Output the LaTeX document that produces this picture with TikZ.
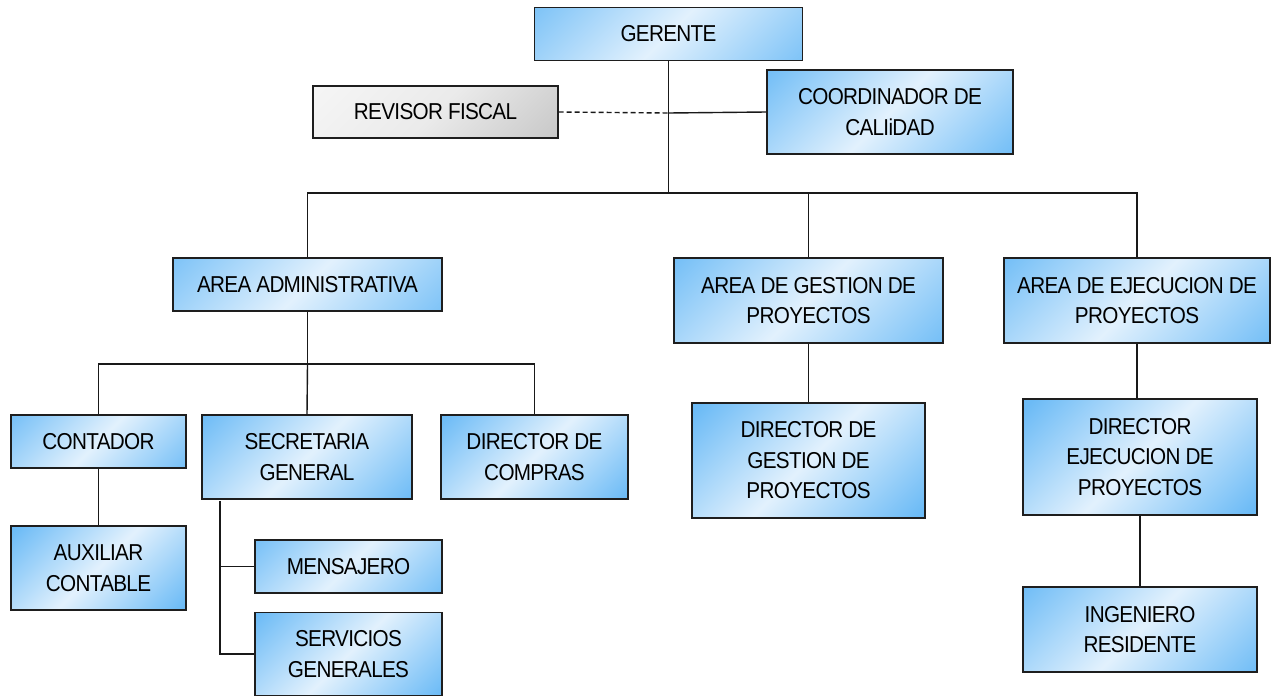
\documentclass[tikz,border=0pt]{standalone}
\usepackage{fontspec}
\usetikzlibrary{calc}
\setmainfont{Liberation Sans}
\newfontfamily\orgfont[FakeStretch=0.9, LetterSpace=-3]{Liberation Sans}
\definecolor{boxblue}{HTML}{6CBBF6}
\definecolor{boxlight}{HTML}{E2F1FD}
\definecolor{boxline}{HTML}{1E1E1E}
\begin{document}
\begin{tikzpicture}[x=1pt,y=-1pt,
  cA/.store in=\colA, cM/.store in=\colM, cB/.store in=\colB,
  cA=boxblue, cM=boxlight, cB=boxblue,
  orgbox/.style={draw=boxline, line width=1.3pt, inner sep=0pt, align=center,
    font=\orgfont\fontsize{23}{30.5}\selectfont,
    path picture={
      \shade[top color=\colA, bottom color=\colB, middle color=\colM, shading angle=45]
        let \p1=($(path picture bounding box.north east)-(path picture bounding box.south west)$),
            \n1={max(abs(\x1),abs(\y1))/2} in
        ([shift={(-\n1,-\n1)}]path picture bounding box.center) rectangle
        ([shift={(\n1,\n1)}]path picture bounding box.center);
    }},
  graybox/.style={cA=gray!6, cM=gray!16, cB=gray!48, orgbox},
  conn/.style={draw=black!90, line width=1.4pt}]
\useasboundingbox (0,0) rectangle (1281,696);

\node[orgbox, minimum width=268, minimum height=53] (ger) at (668.5,34) {GERENTE};
\node[orgbox, minimum width=246, minimum height=84] (coord) at (890,112) {COORDINADOR DE\\CALIiDAD};
\node[graybox, minimum width=245, minimum height=52] (rev) at (435.5,112) {REVISOR FISCAL};

\node[orgbox, minimum width=269, minimum height=53] (adm) at (307.5,284.5) {AREA ADMINISTRATIVA};
\node[orgbox, minimum width=269, minimum height=85] (ges) at (808.5,300.5) {AREA DE GESTION DE\\PROYECTOS};
\node[orgbox, minimum width=266, minimum height=85] (eje) at (1137,300.5) {AREA DE EJECUCION DE\\PROYECTOS};

\node[orgbox, minimum width=175, minimum height=53] (cont) at (98.5,441.5) {CONTADOR};
\node[orgbox, minimum width=210, minimum height=84] (sec) at (307,457) {SECRETARIA\\GENERAL};
\node[orgbox, minimum width=187, minimum height=84] (comp) at (534.5,457) {DIRECTOR DE\\COMPRAS};
\node[orgbox, minimum width=175, minimum height=84] (aux) at (98.5,568) {AUXILIAR\\CONTABLE};
\node[orgbox, minimum width=187, minimum height=53] (men) at (348.5,566.5) {MENSAJERO};
\node[orgbox, minimum width=187, minimum height=83] (serv) at (348.5,654) {SERVICIOS\\GENERALES};

\node[orgbox, minimum width=233, minimum height=115] (dges) at (808.5,460.5) {DIRECTOR DE\\GESTION DE\\PROYECTOS};
\node[orgbox, minimum width=234, minimum height=116] (deje) at (1140,457) {DIRECTOR\\EJECUCION DE\\PROYECTOS};
\node[orgbox, minimum width=234, minimum height=85] (ing) at (1140,629.5) {INGENIERO\\RESIDENTE};

\coordinate (bus) at (668.5,193);
\coordinate (mid) at (668.5,113);
\coordinate (abus) at (307.5,364);
\coordinate (sline) at (220,501);

\draw[conn] (ger.south) -- (bus);
\draw[conn] (mid) -- (coord.west);
\draw[conn, dash pattern=on 5pt off 3pt] (rev.east) -- (mid);
\draw[conn] (adm.north) |- (bus) -| (eje.north);
\draw[conn] (ges.north) -- (ges.north |- bus);

\draw[conn] (adm.south) -- (abus);
\draw[conn] (cont.north) |- (abus) -| (comp.north);
\draw[conn] (abus) -- (sec.north);
\draw[conn] (cont.south) -- (aux.north);

\draw[conn] (sline) |- (serv.west);
\draw[conn] (sline |- men.west) -- (men.west);

\draw[conn] (ges.south) -- (dges.north);
\draw[conn] (eje.south) -- (eje.south |- deje.north);
\draw[conn] (deje.south) -- (ing.north);
\end{tikzpicture}
\end{document}
